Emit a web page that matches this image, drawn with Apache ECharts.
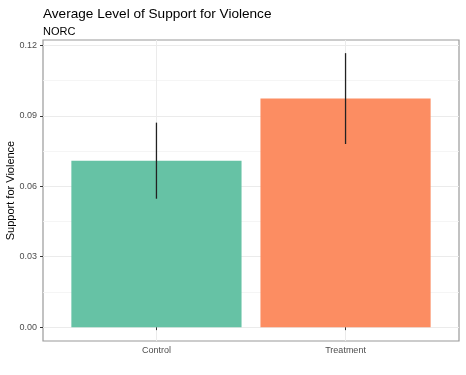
<!DOCTYPE html>
<html>
<head>
<meta charset="utf-8">
<script src="https://cdn.jsdelivr.net/npm/echarts@6/dist/echarts.min.js"></script>
<style>
  html, body { margin: 0; padding: 0; background: #fff; }
  #chart { width: 466px; height: 375px; }
</style>
</head>
<body>
<div id="chart"></div>
<script>
// data
var groups = ['Control', 'Treatment'];
var means = [0.0709, 0.0974];
var lower = [0.0547, 0.0780];
var upper = [0.0871, 0.1167];
var barColors = ['#66C2A5', '#FC8D62'];
var yTicks = [0, 0.03, 0.06, 0.09, 0.12];
var yMinor = [0.015, 0.045, 0.075, 0.105];

var fontFamily = '"Liberation Sans", Arial, Helvetica, sans-serif';

function renderSupportChart(chartDivId) {
    var chart = echarts.init(document.getElementById(chartDivId));

    var barData = [];
    var errData = [];
    for (var i = 0; i < groups.length; i++) {
        barData.push({
            value: [i + 1, means[i]],
            itemStyle: { color: barColors[i] }
        });
        errData.push([i + 1, lower[i], upper[i]]);
    }

    var options = {
        animation: false,
        backgroundColor: '#ffffff',
        title: {
            text: 'Average Level of Support for Violence',
            subtext: 'NORC',
            left: 38,
            top: 2,
            itemGap: 5,
            textStyle: {
                fontFamily: fontFamily,
                fontSize: 13.6,
                fontWeight: 'normal',
                color: '#000000'
            },
            subtextStyle: {
                fontFamily: fontFamily,
                fontSize: 11,
                color: '#000000'
            }
        },
        grid: {
            left: 43,
            right: 7,
            top: 40,
            bottom: 34,
            show: true,
            borderColor: '#9a9a9a',
            borderWidth: 1.2,
            containLabel: false,
            outerBoundsMode: 'none'
        },
        xAxis: [
            {
                type: 'value',
                min: 0.4,
                max: 2.6,
                axisLine: { show: false },
                axisTick: {
                    show: true,
                    length: 3,
                    customValues: [1, 2],
                    lineStyle: { color: '#333333', width: 1 }
                },
                axisLabel: {
                    customValues: [1, 2],
                    margin: 5,
                    fontFamily: fontFamily,
                    fontSize: 9,
                    color: '#4d4d4d',
                    formatter: function (v) {
                        return groups[Math.round(v) - 1];
                    }
                },
                splitLine: { show: true, lineStyle: { color: '#ebebeb', width: 1 } }
            }
        ],
        yAxis: [
            {
                type: 'value',
                min: -0.0059,
                max: 0.1223,
                name: 'Support for Violence',
                nameLocation: 'middle',
                nameGap: 27,
                nameMoveOverlap: false,
                nameRotate: 90,
                nameTextStyle: {
                    fontFamily: fontFamily,
                    fontSize: 11,
                    color: '#000000'
                },
                axisLine: { show: false },
                axisTick: {
                    show: true,
                    length: 3,
                    customValues: yTicks,
                    lineStyle: { color: '#333333', width: 1 }
                },
                axisLabel: {
                    customValues: yTicks,
                    margin: 6,
                    fontFamily: fontFamily,
                    fontSize: 9,
                    color: '#4d4d4d',
                    formatter: function (v) { return v.toFixed(2); }
                },
                splitLine: { show: true, lineStyle: { color: '#ebebeb', width: 1 } }
            },
            {
                // minor grid lines
                type: 'value',
                min: -0.0059,
                max: 0.1223,
                position: 'left',
                axisLine: { show: false },
                axisTick: { show: false, customValues: yMinor },
                axisLabel: { show: false, customValues: yMinor },
                splitLine: { show: true, lineStyle: { color: '#f2f2f2', width: 0.8 } }
            }
        ],
        series: [
            {
                name: 'Mean',
                type: 'bar',
                barWidth: '90%',
                data: barData,
                z: 2
            },
            {
                name: 'CI',
                type: 'custom',
                z: 3,
                data: errData,
                renderItem: function (params, api) {
                    var lo = api.coord([api.value(0), api.value(1)]);
                    var hi = api.coord([api.value(0), api.value(2)]);
                    return {
                        type: 'line',
                        shape: { x1: lo[0], y1: lo[1], x2: hi[0], y2: hi[1] },
                        style: { stroke: '#222222', lineWidth: 1.3 }
                    };
                },
                encode: { x: 0, y: [1, 2] }
            }
        ]
    };

    chart.setOption(options);
    chart.resize();
    window.onresize = function() {
        chart.resize();
    };
}

renderSupportChart('chart');
</script>
</body>
</html>
